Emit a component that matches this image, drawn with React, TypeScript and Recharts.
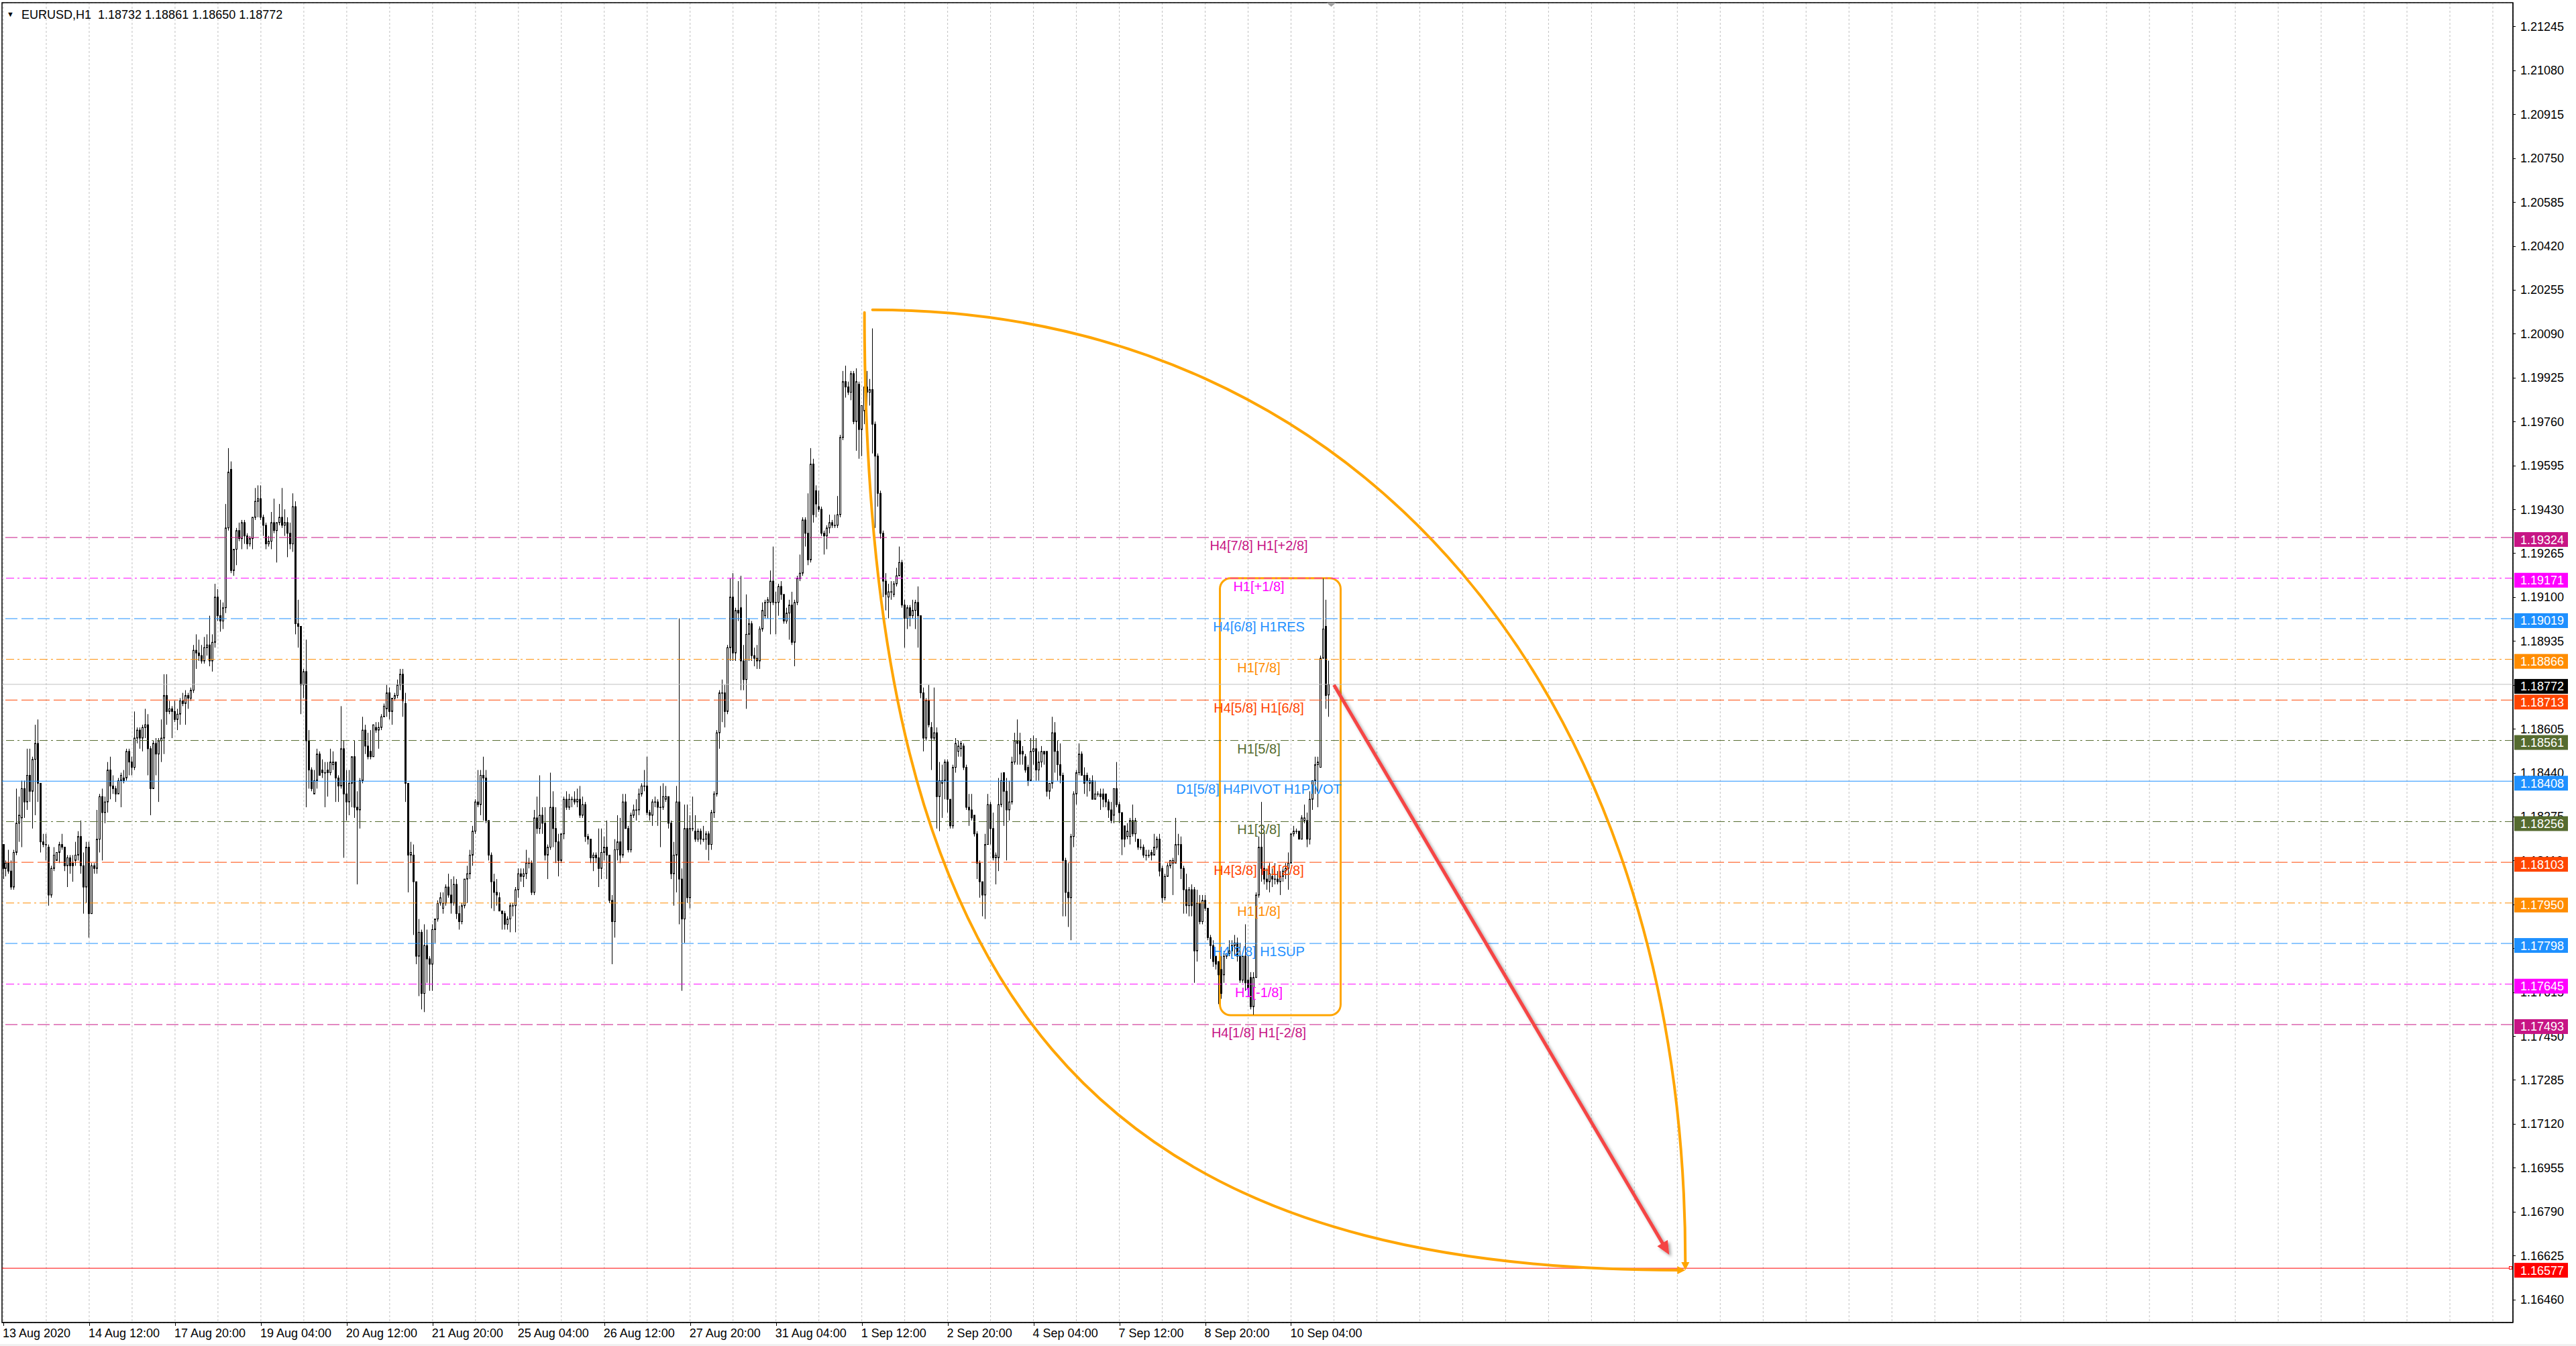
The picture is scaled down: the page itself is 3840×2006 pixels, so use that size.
import React from 'react';
import {
  ComposedChart,
  Bar,
  XAxis,
  YAxis,
  CartesianGrid,
  ReferenceLine,
  ReferenceArea,
  ReferenceDot,
} from 'recharts';

const BASE = 1.17;
const PIP = 0.0001;

// EURUSD H1 candles, pips above 1.17000: [open, high, low, close]
const bars: number[][] = [
  [117,117,104,108],[108,111,105,110],[110,115,106,107],[107,111,100,101],[101,115,100,114],[114,138,113,125],[125,135,118,128],[127,141,116,138],[138,141,127,133],[133,153,130,143],
  [143,153,133,137],[137,150,123,149],[149,162,128,155],[155,164,133,140],[140,140,114,118],[118,121,116,117],[117,121,111,117],[116,117,94,98],[98,109,97,108],[108,116,107,113],
  [111,114,111,114],[114,118,110,117],[117,121,115,116],[116,116,107,109],[109,113,101,112],[112,113,106,109],[110,113,103,109],[111,118,109,113],[113,122,111,120],[120,126,106,109],
  [109,114,91,101],[101,118,95,116],[116,118,82,91],[91,110,91,109],[109,110,106,108],[108,130,106,119],[119,136,114,135],[135,138,111,129],[129,135,125,133],[133,148,129,145],
  [145,150,134,139],[139,143,136,138],[138,139,133,136],[136,142,136,141],[141,144,131,143],[142,145,140,141],[142,153,141,152],[152,153,143,148],[148,150,143,146],[146,167,145,157],
  [157,161,155,160],[160,161,153,157],[157,162,152,161],[161,168,157,162],[162,166,143,153],[153,154,128,138],[138,156,138,155],[155,157,143,151],[151,157,133,156],[156,164,148,157],
  [157,181,151,173],[173,181,162,167],[167,171,166,168],[168,169,157,167],[167,171,163,164],[164,168,160,166],[166,172,162,171],[171,174,169,170],[170,175,162,173],[173,174,168,172],
  [172,176,171,175],[175,192,174,190],[190,196,183,189],[189,194,186,188],[188,192,185,186],[186,195,185,191],[191,196,188,192],[192,203,184,186],[186,196,182,193],[193,215,191,210],
  [210,213,201,203],[203,209,197,201],[201,208,198,206],[206,245,204,236],[236,266,235,257],[258,261,219,220],[220,228,218,228],[228,236,222,235],[235,238,231,232],[232,239,228,238],
  [238,239,230,233],[233,234,228,230],[230,233,229,232],[232,240,228,240],[240,251,239,246],[246,252,240,247],[247,252,239,240],[240,241,233,237],[237,238,228,230],[230,233,229,231],
  [231,242,228,238],[238,247,234,235],[235,238,223,238],[238,245,237,240],[240,251,236,237],[237,243,233,238],[238,240,225,234],[234,238,228,230],[230,249,227,244],[244,246,196,200],
  [200,209,191,199],[199,199,166,177],[177,183,172,182],[182,194,131,156],[156,160,138,145],[145,146,137,138],[136,145,136,141],[141,153,138,151],[151,152,143,143],[145,149,142,144],
  [144,148,131,144],[145,148,135,144],[144,153,143,148],[147,152,145,148],[148,148,133,142],[142,143,133,139],[139,169,138,153],[153,156,112,136],[136,145,126,133],[133,145,128,140],
  [140,150,131,150],[150,156,127,131],[131,137,102,130],[130,142,123,141],[141,165,140,160],[160,162,151,154],[154,159,149,150],[152,160,149,150],[150,162,150,162],[161,163,159,160],
  [160,163,153,161],[161,166,160,165],[165,170,165,169],[168,177,165,174],[174,176,164,167],[167,172,162,172],[172,174,171,173],[173,179,172,177],[177,183,175,181],[181,183,165,171],
  [170,174,133,140],[140,140,99,113],[113,118,110,114],[113,117,83,103],[103,103,72,75],[75,89,60,84],[84,85,55,61],[61,87,54,79],[79,85,65,74],[74,75,62,72],
  [72,87,62,85],[85,89,80,89],[89,96,88,95],[95,99,94,97],[93,99,91,95],[95,102,94,101],[101,106,97,98],[98,104,91,95],[95,105,94,102],[102,104,89,91],
  [91,94,85,88],[88,95,87,94],[94,104,93,104],[104,109,95,106],[106,115,104,113],[113,124,109,122],[122,134,121,133],[133,145,131,132],[132,145,128,143],[143,150,126,142],
  [142,145,125,126],[126,126,111,113],[113,114,93,103],[103,106,92,99],[99,104,94,98],[97,99,92,92],[92,92,85,91],[91,92,85,87],[87,90,85,89],[89,95,84,94],
  [94,95,90,94],[94,101,84,100],[100,108,97,106],[106,108,103,105],[105,108,101,106],[106,115,104,110],[110,112,108,110],[110,111,98,99],[99,130,98,127],[127,135,121,123],
  [123,143,121,128],[128,131,121,125],[125,131,111,113],[113,117,104,116],[116,144,115,131],[131,137,116,123],[123,131,110,118],[118,121,105,111],[111,121,110,121],[121,135,119,134],
  [134,137,130,131],[131,136,130,134],[134,135,131,134],[134,137,132,133],[133,138,131,134],[134,139,127,128],[128,135,127,132],[132,133,118,120],[120,121,117,119],[119,119,110,112],
  [112,114,107,113],[113,114,110,112],[112,123,101,108],[108,123,104,114],[114,120,111,116],[116,126,104,113],[113,113,95,96],[96,98,72,88],[88,119,82,115],[115,128,111,118],
  [118,127,110,113],[113,136,112,133],[133,136,123,123],[123,124,114,115],[115,129,114,128],[128,132,127,130],[130,134,126,130],[130,138,128,136],[136,140,135,139],[139,145,137,139],
  [139,150,128,129],[129,130,126,128],[128,134,124,133],[133,135,131,133],[133,134,124,131],[131,139,116,131],[131,140,130,135],[134,139,133,135],[135,135,123,125],[125,126,104,106],
  [106,118,94,113],[113,139,99,133],[133,202,87,104],[104,108,62,89],[89,132,80,123],[123,132,95,97],[97,128,93,123],[123,135,122,123],[122,128,118,119],[119,123,118,122],
  [122,123,117,119],[119,124,118,119],[119,122,115,121],[121,122,111,117],[117,130,115,129],[129,137,127,136],[136,160,135,159],[159,175,153,174],[174,179,163,174],[174,177,161,167],
  [167,192,166,191],[191,217,186,210],[210,219,186,189],[189,206,186,205],[205,216,201,204],[206,218,175,186],[186,192,175,179],[179,211,168,196],[196,202,186,200],[200,201,186,188],
  [188,191,184,187],[187,192,183,186],[186,199,183,198],[198,208,197,205],[203,209,202,208],[208,210,202,209],[208,220,196,216],[216,229,207,208],[208,212,196,208],[208,215,203,214],
  [214,216,209,211],[211,211,200,201],[201,206,200,204],[204,209,194,207],[207,212,192,193],[193,209,184,208],[208,218,207,217],[217,226,216,219],[219,240,218,239],[239,240,229,234],
  [234,249,222,224],[224,266,223,260],[260,262,238,241],[250,252,240,245],[244,250,242,243],[243,244,233,234],[234,235,226,233],[233,237,228,236],[236,241,234,238],[238,239,236,237],
  [237,241,236,237],[237,248,236,241],[241,271,240,270],[270,295,269,291],[291,297,285,289],[289,291,286,287],[287,295,284,294],[294,295,275,276],[276,296,265,291],[290,291,262,273],
  [273,282,263,282],[280,296,275,289],[289,295,277,287],[287,292,282,288],[288,311,264,275],[275,276,236,263],[263,264,244,249],[249,250,232,234],[234,235,210,216],[216,219,205,211],
  [210,215,202,212],[212,216,209,212],[211,216,210,215],[215,221,214,218],[218,229,218,223],[223,224,206,207],[207,209,191,202],[202,207,198,206],[206,207,199,203],[203,209,202,205],
  [205,209,198,208],[208,214,191,203],[203,203,172,174],[174,176,152,157],[157,172,156,171],[171,177,161,162],[161,163,145,157],[157,176,156,159],[159,161,123,135],[135,148,122,141],
  [140,147,127,141],[141,149,134,148],[148,149,129,134],[134,134,123,124],[124,147,123,146],[146,157,144,155],[152,156,150,154],[153,156,150,155],[154,155,145,146],[146,147,130,131],
  [131,136,124,130],[130,136,126,127],[128,128,120,121],[121,122,104,110],[110,111,97,103],[103,103,90,98],[98,121,89,117],[117,136,117,132],[132,133,117,123],[123,129,111,112],
  [112,114,102,113],[112,142,107,132],[132,144,131,141],[144,144,124,137],[137,142,111,130],[130,141,126,133],[133,150,132,148],[148,159,147,156],[156,164,147,155],[156,159,147,151],
  [152,154,147,151],[150,151,144,145],[146,147,139,141],[141,157,141,152],[152,158,147,153],[153,157,141,145],[145,152,141,148],[148,154,146,152],[152,152,147,151],[152,152,135,137],
  [137,140,134,140],[140,165,138,159],[159,163,144,152],[152,156,141,147],[147,155,140,143],[143,144,90,111],[111,112,90,99],[99,110,86,97],[97,121,81,120],[120,137,116,136],
  [136,145,132,144],[144,155,143,151],[151,152,143,143],[143,146,136,140],[143,144,135,141],[140,142,137,141],[141,143,134,134],[134,141,134,136],[136,137,135,136],[136,138,130,135],
  [136,138,131,134],[136,136,131,133],[133,134,127,130],[130,133,125,126],[128,138,125,138],[138,148,131,132],[132,133,125,129],[129,129,113,119],[124,124,116,119],[120,125,119,122],
  [120,127,117,126],[126,132,120,121],[121,127,118,126],[119,119,115,116],[116,119,115,116],[116,117,112,113],[113,115,111,113],[113,115,112,113],[114,115,111,113],[113,121,113,116],
  [116,120,115,119],[119,121,105,107],[108,109,95,97],[97,106,96,105],[105,110,105,109],[109,111,108,111],[110,112,98,111],[110,127,110,117],[117,121,113,117],[117,120,104,108],
  [108,109,91,100],[100,106,91,94],[94,101,90,100],[100,102,90,94],[100,101,65,77],[77,100,73,95],[95,98,87,88],[88,98,87,96],[96,98,92,93],[93,93,81,82],
  [82,83,74,79],[79,81,71,73],[75,75,70,72],[73,73,57,68],[70,76,59,61],[68,77,65,75],[75,76,74,76],[76,81,75,77],[77,81,75,79],[79,83,75,80],
  [80,82,73,75],[75,80,65,66],[66,75,65,75],[75,87,62,65],[66,75,60,63],[67,69,55,56],[56,69,53,67],[67,99,67,98],[98,120,97,116],[116,133,103,108],
  [108,122,102,104],[104,108,100,103],[103,110,99,106],[105,108,101,104],[104,110,102,104],[104,107,102,103],[103,107,98,105],[105,108,103,107],[107,110,104,108],[108,114,100,110],
  [110,121,110,121],[121,124,120,122],[122,123,121,122],[122,122,119,119],[119,128,119,127],[126,132,125,127],[126,129,116,119],[119,137,117,134],[134,141,130,141],[141,150,136,147],
  [147,150,131,148],[146,188,146,187],[187,217,187,198],[199,209,168,173],[173.2,186.1,165,177.2],
];

// chart keeps empty slots to the right of the last bar (chart shift)
const SLOT_COUNT = 936;

const xTickLabels = [
  '13 Aug 2020', '14 Aug 12:00', '17 Aug 20:00', '19 Aug 04:00', '20 Aug 12:00', '21 Aug 20:00',
  '25 Aug 04:00', '26 Aug 12:00', '27 Aug 20:00', '31 Aug 04:00', '1 Sep 12:00', '2 Sep 20:00',
  '4 Sep 04:00', '7 Sep 12:00', '8 Sep 20:00', '10 Sep 04:00',
];
const BARS_PER_LABEL = 32;

const yTicks = [
  1.1646, 1.16625, 1.1679, 1.16955, 1.1712, 1.17285, 1.1745, 1.17615, 1.1778, 1.17945,
  1.1811, 1.18275, 1.1844, 1.18605, 1.1877, 1.18935, 1.191, 1.19265, 1.1943, 1.19595,
  1.1976, 1.19925, 1.2009, 1.20255, 1.2042, 1.20585, 1.2075, 1.20915, 1.2108, 1.21245,
];
const yDomain = [1.16373, 1.213345];

// Murrey-math style levels
const levelPrices = [1.19324, 1.19171, 1.19019, 1.18866, 1.18713, 1.18561, 1.18408, 1.18256, 1.18103, 1.1795, 1.17798, 1.17645, 1.17493];
const levelNames = [
  'H4[7/8] H1[+2/8]', 'H1[+1/8]', 'H4[6/8] H1RES', 'H1[7/8]', 'H4[5/8] H1[6/8]', 'H1[5/8]',
  'D1[5/8] H4PIVOT H1PIVOT', 'H1[3/8]', 'H4[3/8] H1[2/8]', 'H1[1/8]', 'H4[2/8] H1SUP', 'H1[-1/8]', 'H4[1/8] H1[-2/8]',
];
const levelColors = ['#C71585', '#FF00FF', '#1E90FF', '#FF8C00', '#FF4500', '#556B2F', '#1E90FF', '#556B2F', '#FF4500', '#FF8C00', '#1E90FF', '#FF00FF', '#C71585'];
const levelStyles = ['dash', 'dashdot', 'dash', 'dashdot', 'dash', 'dashdot', 'solid', 'dashdot', 'dash', 'dashdot', 'dash', 'dashdot', 'dash'];
const levelTextBar = 468;

const bidPrice = 1.18772;
const targetPrice = 1.16577;

// drawn objects, anchored at [bar index, price]
const boxBars = [454, 498];
const boxPrices = [1.17528, 1.19171];
const arcDownStart = [321, 1.2017];
const arcRightStart = [324, 1.2018];
const arcEnd = [627, 1.1657];
const arrowStart = [496, 1.1877];
const arrowEnd = [621, 1.16628];
const shiftMarkBar = 495;

const FONT = '"Liberation Sans", Arial, Helvetica, sans-serif';
const ORANGE = '#FFA500';
const DASHES: Record<string, string | undefined> = { dash: '18 6', dashdot: '12 5 3 5', solid: undefined };

const rows = Array.from({ length: SLOT_COUNT }, (_, i) => {
  const b = bars[i];
  if (!b) return { i };
  return { i, o: BASE + b[0] * PIP, h: BASE + b[1] * PIP, l: BASE + b[2] * PIP, c: BASE + b[3] * PIP };
});

const last = rows[bars.length - 1] as any;
const titleText = `EURUSD,H1  ${last.o.toFixed(5)} ${last.h.toFixed(5)} ${last.l.toFixed(5)} ${last.c.toFixed(5)}`;

function Candle(props: any) {
  const { x, y, width, height, payload } = props;
  if (!payload || payload.h === undefined) return null;
  const { o, h, l, c } = payload;
  const k = h > l ? height / (h - l) : 0;
  const cx = Math.floor(x + width / 2) + 0.5;
  const top = y + (h - Math.max(o, c)) * k;
  const bh = Math.max(Math.abs(o - c) * k, 0.5);
  const bull = c >= o;
  return (
    <g>
      <line x1={cx} x2={cx} y1={y} y2={y + Math.max(height, 1)} stroke="#000" strokeWidth={1} />
      <rect x={cx - 1} y={top} width={2} height={bh} fill={bull ? '#fff' : '#000'} stroke="#000" strokeWidth={1} />
    </g>
  );
}

function XTick(props: any) {
  const { x, y, payload } = props;
  const v = Number(payload.value);
  const label = v % BARS_PER_LABEL === 0 ? xTickLabels[v / BARS_PER_LABEL] : undefined;
  if (!label) return <g />;
  const px = Math.round(x) + 0.5;
  return (
    <g>
      <line x1={px} x2={px} y1={y} y2={y + 5} stroke="#000" />
      <text x={x - 1} y={y + 22} fontSize={18} fontFamily={FONT} fill="#000">{label}</text>
    </g>
  );
}

// price-axis tick label, drawn as a reference-line label so the price tags can cover it
const axisTick = (price: number) => (props: any) => {
  const vb = props.viewBox || {};
  const right = vb.x + vb.width;
  const py = Math.round(vb.y) + 0.5;
  return (
    <g>
      <line x1={right} x2={right + 4} y1={py} y2={py} stroke="#000" />
      <text x={right + 11} y={vb.y + 6.5} fontSize={18} fontFamily={FONT} fill="#000">{price.toFixed(5)}</text>
    </g>
  );
};

const priceTag = (bg: string, price: number, marker = false) => (props: any) => {
  const vb = props.viewBox || {};
  const right = vb.x + vb.width;
  const y = vb.y;
  return (
    <g>
      {marker && <rect x={right - 5.5} y={Math.round(y) - 2.5} width={4} height={4} fill="#fff" stroke={bg} />}
      <rect x={right + 2} y={y - 8} width={80} height={22} fill={bg} />
      <text x={right + 11} y={y + 9.5} fill="#fff" fontSize={18} fontFamily={FONT}>{price.toFixed(5)}</text>
    </g>
  );
};

const levelText = (name: string, color: string) => (p: any) => (
  <text x={p.cx} y={p.cy + 19} textAnchor="middle" fill={color} fontSize={20} fontFamily={FONT}>{name}</text>
);

const curvedArrow = (verticalFirst: boolean) => (p: any) => {
  const { x1, y1, x2, y2 } = p;
  const head = 12;
  let d: string;
  let tip: string;
  if (verticalFirst) {
    const k = 0.72;
    const ex = x2 - head + 2;
    d = `M${x1},${y1} C${x1},${y1 + k * (y2 - y1)} ${x2 - k * (x2 - x1)},${y2} ${ex},${y2}`;
    tip = `${x2},${y2} ${x2 - head},${y2 - 6} ${x2 - head},${y2 + 6}`;
  } else {
    const k = 0.6;
    const ey = y2 - head + 2;
    d = `M${x1},${y1} C${x1 + k * (x2 - x1)},${y1} ${x2},${y2 - k * (y2 - y1)} ${x2},${ey}`;
    tip = `${x2},${y2} ${x2 - 6},${y2 - head} ${x2 + 6},${y2 - head}`;
  }
  return (
    <g>
      <path d={d} fill="none" stroke={ORANGE} strokeWidth={4} strokeLinecap="round" />
      <polygon points={tip} fill={ORANGE} />
    </g>
  );
};

const redArrow = (p: any) => {
  const { x1, y1, x2, y2 } = p;
  const dx = x2 - x1;
  const dy = y2 - y1;
  const len = Math.hypot(dx, dy) || 1;
  const ux = dx / len;
  const uy = dy / len;
  const hl = 20;
  const hw = 9;
  const bx = x2 - ux * hl;
  const by = y2 - uy * hl;
  return (
    <g>
      <defs>
        <filter id="redArrowShadow" x="-30%" y="-30%" width="160%" height="160%">
          <feDropShadow dx="3" dy="3" stdDeviation="2" floodColor="#000" floodOpacity="0.35" />
        </filter>
      </defs>
      <g filter="url(#redArrowShadow)">
        <line x1={x1} y1={y1} x2={bx + ux * 2} y2={by + uy * 2} stroke="#F54444" strokeWidth={5} />
        <polygon
          points={`${x2},${y2} ${bx - uy * hw},${by + ux * hw} ${bx + uy * hw},${by - ux * hw}`}
          fill="#F54444"
        />
      </g>
    </g>
  );
};

export default function App() {
  return (
    <div style={{ position: 'absolute', left: 0, top: 0, width: 3840, height: 2006, background: '#fff', overflow: 'hidden' }}>
      <ComposedChart
        width={3840}
        height={2006}
        data={rows}
        margin={{ top: 4, right: 0, bottom: 0, left: 3 }}
        barCategoryGap={0}
        barGap={0}
      >
        <CartesianGrid stroke="#C0C0C0" strokeDasharray="3 3" />
        <XAxis
          dataKey="i"
          type="category"
          interval={15}
          height={35}
          tickSize={0}
          tickMargin={0}
          tickLine={false}
          axisLine={{ stroke: '#000' }}
          tick={<XTick />}
        />
        <YAxis
          orientation="right"
          type="number"
          width={94}
          domain={yDomain}
          ticks={yTicks}
          interval={0}
          allowDataOverflow
          tickSize={0}
          tickMargin={0}
          tickLine={false}
          axisLine={{ stroke: '#000' }}
          tick={false}
        />

        {yTicks.map((t) => (
          <ReferenceLine key={`tick-${t}`} y={t} stroke="none" label={axisTick(t)} />
        ))}

        {levelPrices.map((p, idx) => (
          <ReferenceLine
            key={`lvl-${idx}`}
            y={p}
            stroke={levelColors[idx]}
            strokeWidth={1}
            strokeDasharray={DASHES[levelStyles[idx]]}
            label={priceTag(levelColors[idx], p)}
          />
        ))}
        <ReferenceLine y={bidPrice} stroke="#C0C0C0" strokeWidth={1} label={priceTag('#000000', bidPrice)} />
        <ReferenceLine y={targetPrice} stroke="#FF0000" strokeWidth={1} label={priceTag('#FF0000', targetPrice, true)} />

        <Bar
          dataKey={(d: any) => (d.h === undefined ? null : [d.l, d.h])}
          shape={(p: any) => <Candle {...p} />}
          isAnimationActive={false}
        />

        <ReferenceArea
          x1={boxBars[0]}
          x2={boxBars[1]}
          y1={boxPrices[0]}
          y2={boxPrices[1]}
          shape={(p: any) => (
            <rect x={p.x} y={p.y} width={p.width} height={p.height} rx={16} ry={16} fill="none" stroke={ORANGE} strokeWidth={3} />
          )}
        />
        <ReferenceLine
          segment={[{ x: arcDownStart[0], y: arcDownStart[1] }, { x: arcEnd[0], y: arcEnd[1] }]}
          ifOverflow="visible"
          shape={curvedArrow(true)}
        />
        <ReferenceLine
          segment={[{ x: arcRightStart[0], y: arcRightStart[1] }, { x: arcEnd[0], y: arcEnd[1] }]}
          ifOverflow="visible"
          shape={curvedArrow(false)}
        />
        <ReferenceLine
          segment={[{ x: arrowStart[0], y: arrowStart[1] }, { x: arrowEnd[0], y: arrowEnd[1] }]}
          ifOverflow="visible"
          shape={redArrow}
        />

        {levelPrices.map((p, idx) => (
          <ReferenceDot
            key={`txt-${idx}`}
            x={levelTextBar}
            y={p}
            r={0}
            ifOverflow="visible"
            shape={levelText(levelNames[idx], levelColors[idx])}
          />
        ))}

        <ReferenceDot
          x={shiftMarkBar}
          y={yDomain[1]}
          r={0}
          ifOverflow="visible"
          shape={(p: any) => (
            <polygon points={`${p.cx - 7},${p.cy} ${p.cx + 7},${p.cy} ${p.cx},${p.cy + 6}`} fill="#A0A0A0" />
          )}
        />
        <ReferenceArea
          x1={0}
          x2={SLOT_COUNT - 1}
          y1={yDomain[0]}
          y2={yDomain[1]}
          ifOverflow="visible"
          shape={(p: any) => (
            <rect x={p.x} y={p.y} width={p.width} height={p.height} fill="none" stroke="#000" strokeWidth={1.5} />
          )}
        />
      </ComposedChart>

      <div style={{ position: 'absolute', left: 10, top: 12, fontFamily: FONT, fontSize: 11, lineHeight: '18px', color: '#000' }}>▼</div>
      <div style={{ position: 'absolute', left: 32, top: 11, fontFamily: FONT, fontSize: 18, lineHeight: '22px', color: '#000', whiteSpace: 'pre' }}>
        {titleText}
      </div>
      <div style={{ position: 'absolute', left: 0, top: 2003, width: 3840, height: 3, background: '#F0F0F0' }} />
    </div>
  );
}
